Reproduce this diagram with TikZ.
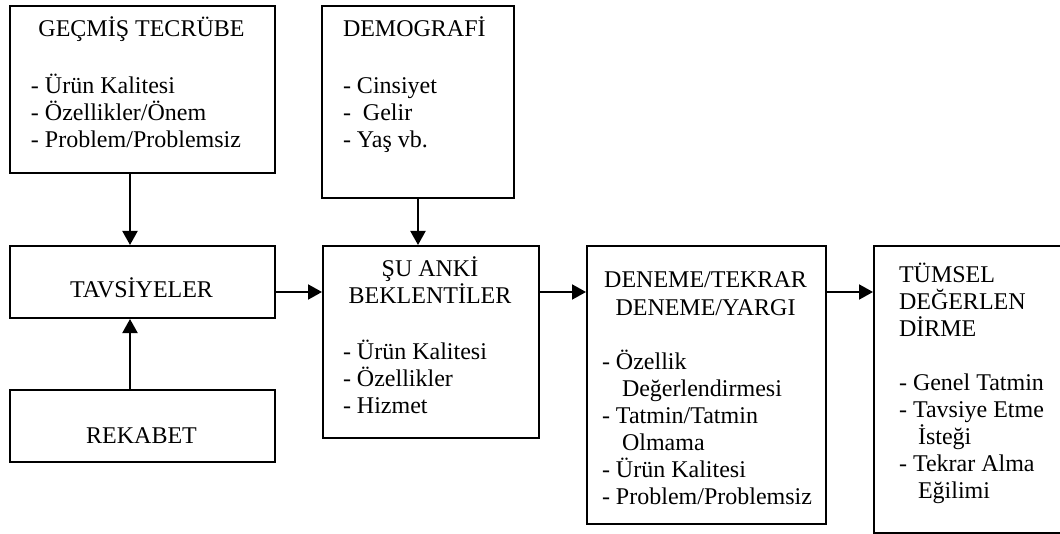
\documentclass[tikz,border=0pt]{standalone}
\usepackage{fontspec}
\setmainfont{Liberation Serif}
\usetikzlibrary{arrows.meta}
\tikzset{block/.style={draw,
                       rectangle,
                       line width=1pt,
                       anchor=north west,
                       inner sep=0pt},
         txt/.style={inner sep=0pt,
                     align=left,
                     anchor=base west,
                     font=\fontsize{12}{13.5}\selectfont},
         head/.style={txt, align=center, anchor=base}}

\begin{document}
\begin{tikzpicture}[x=0.5pt,y=-0.5pt,>={Triangle[length=7pt,width=7.5pt]},line width=1pt]
    \useasboundingbox (0,0) rectangle (1060,534);
    % We start by placing the blocks
    \node [block, minimum width=132.5pt, minimum height=83.5pt] (gecmis) at (9,5) {};
    \node [block, minimum width=132.5pt, minimum height=36pt] (tavsiye) at (9,245) {};
    \node [block, minimum width=132.5pt, minimum height=36pt] (rekabet) at (9,389) {};
    \node [block, minimum width=96pt, minimum height=96pt] (demografi) at (321,5) {};
    \node [block, minimum width=108pt, minimum height=96pt] (suanki) at (322,245) {};
    \node [block, minimum width=119.5pt, minimum height=139pt] (deneme) at (586,245) {};
    \node [block, minimum width=96pt, minimum height=143.5pt] (tumsel) at (873,245) {};
    % Texts in the blocks (base = baseline of the last line)
    \node [head] (gecmis-t) at (141.5,37) {GEÇMİŞ TECRÜBE};
    \node [txt] (gecmis-l) at (30,148) {- Ürün Kalitesi\\- Özellikler/Önem\\- Problem/Problemsiz};
    \node [head] (tavsiye-t) at (141.5,298) {TAVSİYELER};
    \node [head] (rekabet-t) at (141.5,443) {REKABET};
    \node [txt] (demografi-t) at (342,37) {DEMOGRAFİ};
    \node [txt] (demografi-l) at (342,148) {- Cinsiyet\\- \ Gelir\\- Yaş vb.};
    \node [head] (suanki-t) at (430,304) {ŞU ANKİ\\BEKLENTİLER};
    \node [txt] (suanki-l) at (342,413) {- Ürün Kalitesi\\- Özellikler\\- Hizmet};
    \node [head] (deneme-t) at (705.5,315) {DENEME/TEKRAR\\DENEME/YARGI};
    \node [txt] (deneme-l) at (601,504) {- Özellik\\\hspace*{10pt}Değerlendirmesi\\- Tatmin/Tatmin\\\hspace*{10pt}Olmama\\- Ürün Kalitesi\\- Problem/Problemsiz};
    \node [txt] (tumsel-t) at (898,336) {TÜMSEL\\DEĞERLEN\\DİRME};
    \node [txt] (tumsel-l) at (898,498) {- Genel Tatmin\\- Tavsiye Etme\\\hspace*{9.5pt}İsteği\\- Tekrar Alma\\\hspace*{9.5pt}Eğilimi};
    % We draw the arrows between the blocks
    \coordinate (mid) at (0,292);
    \draw [->] ([xshift=-6.25pt]gecmis.south) -- ([xshift=-6.25pt]tavsiye.north);
    \draw [->] ([xshift=-6.25pt]rekabet.north) -- ([xshift=-6.25pt]tavsiye.south);
    \draw [->] (demografi.south) -- (demografi.south |- suanki.north);
    \draw [->] (tavsiye.east |- mid) -- (suanki.west |- mid);
    \draw [->] (suanki.east |- mid) -- (deneme.west |- mid);
    \draw [->] (deneme.east |- mid) -- (tumsel.west |- mid);
\end{tikzpicture}
\end{document}
